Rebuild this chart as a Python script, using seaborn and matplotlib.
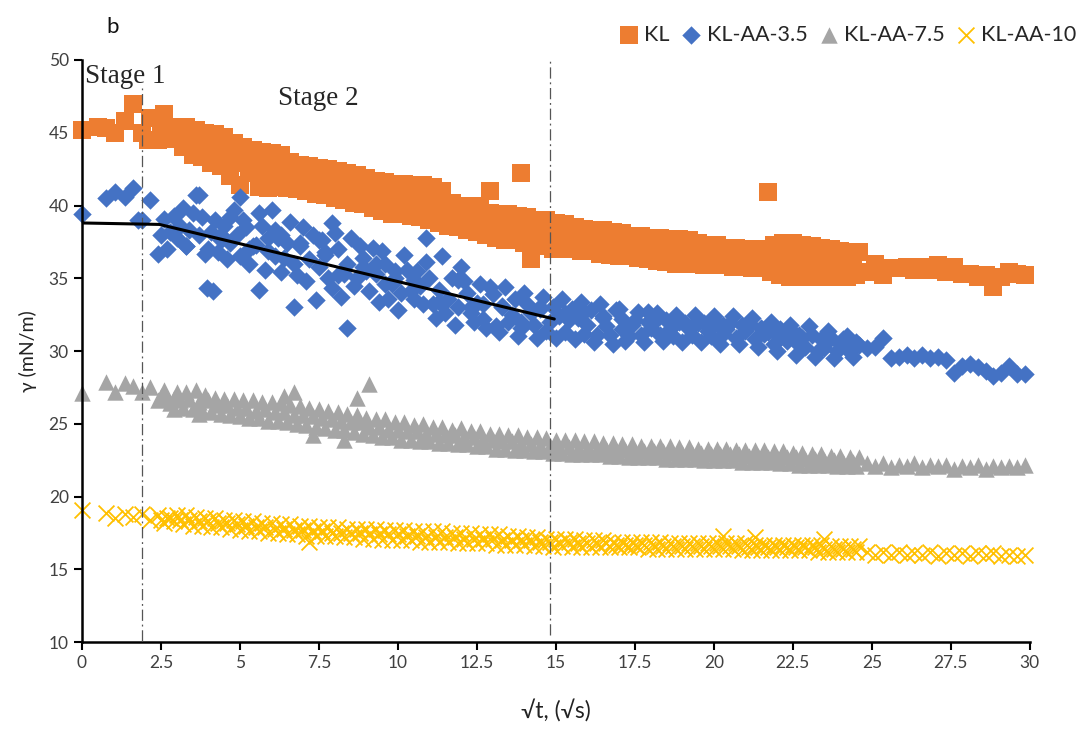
import numpy as np
import pandas as pd
import seaborn as sns
import matplotlib.pyplot as plt

# sqrt(t) positions: main stations, in-between stations, sparse tail
t_dense = [0, 0.75, 1.05, 1.35, 1.6, 1.9, 2.15, 2.4, 2.6, 2.8,
           3.0, 3.2, 3.4, 3.6, 3.8, 4.0, 4.2, 4.4, 4.6, 4.8,
           5.0, 5.2, 5.4, 5.6, 5.8, 6.0, 6.2, 6.4, 6.6, 6.8,
           7.0, 7.2, 7.4, 7.6, 7.8, 8.0, 8.2, 8.4, 8.6, 8.8,
           9.0, 9.2, 9.4, 9.6, 9.8, 10.0, 10.2, 10.4, 10.6, 10.8,
           11.0, 11.2, 11.4, 11.6, 11.8, 12.0, 12.2, 12.4, 12.6, 12.8,
           13.0, 13.2, 13.4, 13.6, 13.8, 14.0, 14.2, 14.4, 14.6, 14.8,
           15.0, 15.2, 15.4, 15.6, 15.8, 16.0, 16.2, 16.4, 16.6, 16.8,
           17.0, 17.2, 17.4, 17.6, 17.8, 18.0, 18.2, 18.4, 18.6, 18.8,
           19.0, 19.2, 19.4, 19.6, 19.8, 20.0, 20.2, 20.4, 20.6, 20.8,
           21.0, 21.2, 21.4, 21.6, 21.8, 22.0, 22.2, 22.4, 22.6, 22.8,
           23.0, 23.2, 23.4, 23.6, 23.8, 24.0, 24.2, 24.4, 24.6]
t_mid = [2.5, 2.7, 2.9, 3.1, 3.3, 3.5, 3.7, 3.9, 4.1, 4.3,
         4.5, 4.7, 4.9, 5.1, 5.3, 5.5, 5.7, 5.9, 6.1, 6.3,
         6.5, 6.7, 6.9, 7.1, 7.3, 7.5, 7.7, 7.9, 8.1, 8.3,
         8.5, 8.7, 8.9, 9.1, 9.3, 9.5, 9.7, 9.9, 10.1, 10.3,
         10.5, 10.7, 10.9, 11.1, 11.3, 11.5, 11.7, 11.9, 12.1, 12.3,
         12.5, 12.7, 12.9, 13.1, 13.3, 13.5, 13.7, 13.9, 14.1, 14.3,
         14.5, 14.7, 14.9, 15.1, 15.3, 15.5, 15.7, 15.9, 16.1, 16.3,
         16.5, 16.7, 16.9, 17.1, 17.3, 17.5, 17.7, 17.9, 18.1, 18.3,
         18.5, 18.7, 18.9, 19.1, 19.3, 19.5, 19.7, 19.9, 20.1, 20.3,
         20.5, 20.7, 20.9, 21.1, 21.3, 21.5, 21.7, 21.9, 22.1, 22.3,
         22.5, 22.7, 22.9, 23.1, 23.3, 23.5, 23.7, 23.9, 24.1, 24.3,
         24.5]
t_late = [24.85, 25.1, 25.35, 25.6, 25.85, 26.1, 26.35, 26.6, 26.85, 27.1, 27.35,
          27.6, 27.85, 28.1, 28.35, 28.6, 28.85, 29.1, 29.35, 29.6, 29.85]

# KL
kl_dense = [45.2, 45.3, 45.0, 45.8, 47.0, 45.0, 46.0, 44.5, 46.3, 44.6,
            45.4, 44.0, 44.7, 45.2, 43.3, 44.1, 44.9, 42.7, 43.6, 44.3,
            41.4, 43.0, 43.8, 41.3, 42.5, 43.6, 41.3, 42.4, 43.0, 41.1,
            41.9, 42.7, 40.8, 41.7, 42.5, 40.5, 41.4, 42.2, 40.2, 41.1,
            41.9, 39.8, 40.7, 41.6, 39.4, 40.4, 41.5, 39.3, 40.3, 41.4,
            39.0, 40.1, 41.0, 38.6, 39.4, 40.0, 38.3, 39.1, 40.0, 38.0,
            38.7, 39.4, 37.6, 38.5, 39.3, 37.4, 38.2, 39.0, 37.2, 38.1,
            38.8, 37.0, 37.8, 38.5, 36.9, 37.6, 38.3, 36.7, 37.5, 38.2,
            36.5, 37.3, 37.9, 36.4, 37.1, 37.8, 36.2, 37.0, 37.7, 36.0,
            36.9, 37.6, 36.0, 36.7, 37.3, 35.9, 36.6, 37.1, 35.8, 36.4,
            37.0, 35.7, 36.4, 37.0, 35.4, 36.3, 37.4, 35.1, 36.2, 37.3,
            35.1, 36.2, 37.1, 35.1, 36.0, 36.9, 35.1, 36.0, 36.8]
kl_mid = [45.3, 45.2, 45.0, 44.7, 45.4, 43.5, 44.3, 45.0, 42.9, 43.8,
          44.7, 42.0, 42.9, 44.0, 42.2, 42.6, 43.7, 41.2, 42.4, 43.5,
          41.2, 42.1, 42.8, 41.0, 41.8, 42.6, 40.7, 41.5, 42.4, 40.4,
          41.2, 42.1, 40.1, 40.9, 41.7, 39.6, 40.5, 41.5, 39.4, 40.4,
          41.4, 39.2, 40.2, 41.3, 38.8, 39.8, 40.2, 38.5, 39.2, 40.0,
          38.2, 39.0, 39.5, 37.8, 38.5, 39.4, 37.6, 38.4, 39.2, 37.3,
          38.1, 39.0, 37.0, 37.9, 38.7, 37.0, 37.7, 38.4, 36.9, 37.6,
          38.3, 36.6, 37.4, 38.1, 36.5, 37.2, 37.9, 36.3, 37.0, 37.8,
          36.1, 36.9, 37.7, 36.0, 36.8, 37.4, 35.9, 36.6, 37.3, 35.9,
          36.5, 37.1, 35.8, 36.4, 37.0, 35.7, 36.3, 37.3, 35.2, 36.2,
          37.4, 35.1, 36.2, 37.2, 35.1, 36.1, 37.0, 35.1, 36.0, 36.8,
          35.2]
kl_late = [35.4, 36.0, 35.2, 35.7, 35.7, 35.8, 35.6, 35.8, 35.6, 35.9, 35.4,
           35.8, 35.3, 35.3, 35.1, 35.2, 34.4, 35.1, 35.4, 35.3, 35.2]
kl_extra_t = [0.5, 2.1, 12.9, 13.9, 14.2, 21.7]
kl_extra = [45.4, 44.5, 41.0, 42.2, 36.3, 40.9]

# KL-AA-3.5
aa35_dense = [39.4, 40.5, 40.9, 40.6, 41.2, 39.0, 40.4, 36.7, 39.1, 38.2,
              37.8, 39.8, 38.3, 40.7, 39.2, 37.0, 39.0, 37.6, 36.3, 39.7,
              36.5, 38.5, 37.2, 39.5, 35.6, 39.7, 37.8, 36.4, 38.9, 35.2,
              38.5, 36.3, 33.5, 37.6, 35.0, 38.1, 33.7, 36.0, 34.5, 37.2,
              35.5, 37.1, 33.4, 36.0, 34.6, 32.8, 36.6, 34.1, 35.5, 33.2,
              35.0, 32.3, 36.5, 33.6, 31.8, 35.8, 34.0, 32.0, 34.6, 31.6,
              33.9, 31.3, 34.4, 32.5, 31.0, 34.0, 32.6, 30.9, 33.7, 32.0,
              30.9, 33.6, 32.1, 30.8, 33.4, 31.8, 30.6, 33.2, 31.7, 30.5,
              32.9, 30.7, 31.8, 32.7, 30.6, 31.6, 32.6, 30.7, 31.5, 32.5,
              30.6, 31.5, 32.5, 30.6, 31.4, 32.4, 30.5, 31.5, 32.4, 30.5,
              31.4, 32.3, 30.3, 31.2, 32.0, 30.0, 31.0, 31.8, 29.7, 30.9,
              31.7, 29.6, 30.8, 31.4, 29.5, 30.5, 31.0, 29.6, 30.4]
aa35_mid = [38.0, 37.0, 39.3, 38.6, 37.2, 39.5, 38.0, 36.7, 38.2, 36.8,
            38.6, 37.4, 38.0, 39.0, 36.0, 37.3, 38.6, 36.9, 38.3, 35.4,
            37.4, 36.0, 37.2, 34.8, 38.0, 35.8, 36.8, 34.3, 37.0, 35.3,
            37.8, 35.0, 36.4, 34.1, 35.3, 36.9, 33.6, 35.0, 34.0, 35.6,
            33.6, 34.5, 36.1, 33.2, 34.2, 32.6, 35.0, 33.0, 34.8, 32.6,
            33.3, 32.2, 34.4, 31.7, 33.1, 32.0, 33.6, 31.6, 33.2, 31.8,
            32.9, 31.4, 33.0, 32.4, 31.3, 32.9, 32.3, 31.2, 32.8, 31.1,
            32.3, 31.1, 32.8, 32.2, 31.0, 32.1, 31.1, 32.7, 32.0, 31.1,
            32.1, 31.0, 32.0, 31.9, 31.1, 32.1, 31.9, 31.0, 31.9, 31.2,
            31.9, 30.9, 31.8, 31.7, 30.8, 31.6, 31.3, 30.5, 31.5, 30.7,
            31.3, 30.4, 30.3, 31.1, 30.0, 30.2, 30.9, 30.0, 30.8, 29.9,
            30.6]
aa35_late = [30.2, 30.3, 30.9, 29.5, 29.6, 29.7, 29.5, 29.7, 29.5, 29.6, 29.4,
             28.5, 29.0, 29.1, 28.9, 28.6, 28.3, 28.5, 29.0, 28.4, 28.4]
aa35_extra_t = [1.77, 3.7, 3.95, 4.15, 5.0, 5.6, 6.7, 7.9, 8.4,
                2.9, 3.3, 4.4, 4.7, 5.3, 5.9, 6.3, 6.1, 6.9, 7.5,
                7.7, 8.1, 8.9, 9.3, 9.6, 9.9, 10.5, 10.9, 11.3, 11.9,
                12.3, 12.7, 13.3, 13.9, 14.5, 15.3, 15.9, 16.5, 17.1, 17.9,
                18.7, 19.5, 20.3, 21.1, 21.9, 22.7, 23.5, 24.3]
aa35_extra = [39.0, 40.7, 34.3, 34.1, 40.6, 34.2, 33.0, 38.8, 31.6,
              39.2, 37.2, 38.0, 39.2, 37.0, 37.8, 38.0, 36.5, 37.4, 37.6,
              36.6, 35.2, 35.8, 36.0, 34.6, 35.5, 34.9, 37.8, 33.4, 34.9,
              33.0, 33.2, 33.0, 32.0, 33.0, 32.6, 32.7, 32.4, 31.5, 32.0,
              32.0, 31.9, 31.8, 31.9, 31.3, 31.1, 30.9, 30.1]

# KL-AA-7.5
aa75_dense = [27.1, 27.9, 27.2, 27.8, 27.6, 27.2, 27.5, 26.6, 27.3, 26.4,
              27.2, 26.1, 26.7, 27.3, 25.9, 26.6, 26.8, 25.7, 26.3, 26.7,
              25.5, 26.1, 26.6, 25.4, 26.0, 26.5, 25.2, 25.8, 26.3, 25.0,
              25.6, 26.1, 24.8, 25.4, 25.9, 24.6, 25.2, 25.7, 24.4, 25.1,
              25.4, 24.2, 24.8, 25.3, 24.1, 24.6, 25.1, 23.9, 24.5, 25.0,
              23.8, 24.3, 24.8, 23.7, 24.2, 24.7, 23.6, 24.1, 24.5, 23.5,
              23.9, 24.3, 23.3, 23.8, 24.2, 23.2, 23.6, 24.1, 23.1, 23.5,
              23.9, 23.0, 23.4, 23.9, 22.9, 23.3, 23.8, 22.9, 23.3, 23.7,
              22.8, 23.2, 23.6, 22.7, 23.1, 23.5, 22.7, 23.1, 23.5, 22.6,
              23.0, 23.4, 22.6, 23.0, 23.3, 22.5, 22.9, 23.3, 22.5, 22.9,
              23.2, 22.4, 22.8, 23.2, 22.4, 22.7, 23.1, 22.3, 22.7, 23.0,
              22.2, 22.6, 22.9, 22.2, 22.5, 22.8, 22.1, 22.4, 22.7]
aa75_mid = [26.9, 26.8, 26.8, 26.6, 27.2, 26.0, 26.5, 27.0, 25.8, 26.3,
            26.7, 25.6, 26.1, 26.6, 25.4, 25.9, 26.5, 25.2, 25.8, 26.4,
            25.1, 25.6, 26.2, 24.9, 25.5, 26.0, 24.7, 25.3, 25.8, 24.6,
            25.1, 25.6, 24.3, 24.8, 25.3, 24.1, 24.6, 25.1, 23.9, 24.5,
            24.9, 23.8, 24.3, 24.8, 23.7, 24.2, 24.6, 23.6, 24.1, 24.5,
            23.5, 23.9, 24.3, 23.3, 23.8, 24.2, 23.2, 23.6, 24.1, 23.1,
            23.5, 24.0, 23.0, 23.4, 23.9, 22.9, 23.3, 23.8, 22.9, 23.3,
            23.7, 22.8, 23.2, 23.6, 22.7, 23.1, 23.5, 22.7, 23.1, 23.5,
            22.6, 23.0, 23.4, 22.6, 23.0, 23.3, 22.5, 22.9, 23.3, 22.5,
            22.9, 23.2, 22.4, 22.8, 23.2, 22.4, 22.7, 23.1, 22.3, 22.7,
            23.0, 22.2, 22.6, 22.9, 22.2, 22.5, 22.8, 22.1, 22.4, 22.7,
            22.1]
aa75_late = [22.3, 22.1, 22.3, 22.0, 22.2, 22.1, 22.3, 22.0, 22.2, 22.1, 22.2,
             21.9, 22.1, 22.0, 22.2, 21.9, 22.1, 22.0, 22.1, 22.0, 22.2]
aa75_extra_t = [6.7, 8.7, 9.1, 7.3, 8.3, 2.9, 3.7, 6.4]
aa75_extra = [27.2, 26.8, 27.7, 24.2, 23.9, 26.0, 25.7, 26.9]

# KL-AA-10
aa10_dense = [19.1, 18.9, 18.5, 18.8, 18.6, 18.8, 18.4, 18.7, 18.2, 18.5,
              18.7, 18.1, 18.4, 18.6, 18.0, 18.3, 18.5, 17.9, 18.2, 18.4,
              17.7, 18.0, 18.3, 17.6, 17.9, 18.2, 17.5, 17.8, 18.1, 17.4,
              17.7, 18.0, 17.3, 17.6, 17.9, 17.3, 17.5, 17.8, 17.2, 17.5,
              17.8, 17.1, 17.4, 17.7, 17.0, 17.4, 17.7, 17.0, 17.3, 17.6,
              16.9, 17.2, 17.6, 16.9, 17.2, 17.5, 16.8, 17.1, 17.4, 16.8,
              17.1, 17.4, 16.7, 17.0, 17.3, 16.7, 17.0, 17.2, 16.6, 16.9,
              17.1, 16.6, 16.9, 17.1, 16.5, 16.8, 17.0, 16.5, 16.8, 16.9,
              16.5, 16.7, 16.9, 16.5, 16.7, 16.9, 16.4, 16.6, 16.8, 16.4,
              16.6, 16.8, 16.4, 16.6, 16.8, 16.4, 16.6, 16.8, 16.4, 16.6,
              16.8, 16.3, 16.5, 16.7, 16.3, 16.5, 16.7, 16.3, 16.5, 16.7,
              16.3, 16.5, 16.7, 16.2, 16.4, 16.6, 16.2, 16.4, 16.6]
aa10_mid = [18.4, 18.5, 18.3, 18.4, 18.7, 18.0, 18.3, 18.5, 17.9, 18.2,
            18.4, 17.8, 18.1, 18.3, 17.6, 17.9, 18.2, 17.5, 17.8, 18.1,
            17.4, 17.7, 18.0, 17.3, 17.6, 17.9, 17.3, 17.5, 17.9, 17.2,
            17.5, 17.8, 17.1, 17.4, 17.8, 17.0, 17.4, 17.7, 17.0, 17.3,
            17.6, 16.9, 17.2, 17.6, 16.9, 17.2, 17.5, 16.8, 17.1, 17.5,
            16.8, 17.1, 17.4, 16.7, 17.0, 17.3, 16.7, 17.0, 17.2, 16.6,
            16.9, 17.1, 16.5, 16.8, 17.1, 16.5, 16.8, 17.0, 16.5, 16.8,
            17.0, 16.5, 16.7, 16.9, 16.5, 16.7, 16.9, 16.4, 16.6, 16.9,
            16.4, 16.6, 16.8, 16.4, 16.6, 16.8, 16.4, 16.6, 16.8, 16.4,
            16.6, 16.8, 16.3, 16.5, 16.7, 16.3, 16.5, 16.7, 16.3, 16.5,
            16.7, 16.3, 16.5, 16.7, 16.2, 16.4, 16.6, 16.2, 16.4, 16.6,
            16.2]
aa10_late = [16.2, 16.0, 16.2, 16.0, 16.2, 16.0, 16.1, 16.0, 16.2, 15.9, 16.1,
             16.0, 16.1, 15.9, 16.1, 16.0, 16.1, 15.9, 16.0, 15.9, 16.0]
aa10_extra_t = [7.2, 20.3, 21.3, 23.5]
aa10_extra = [16.9, 17.3, 17.2, 17.1]

# linear fit drawn over KL-AA-3.5, and the stage boundaries
fit_t = [0, 2.45, 14.95]
fit_g = [38.8, 38.7, 32.2]
stage_t = [1.9, 14.8]
stage_lo = [10.1, 10.5]
stage_hi = [48.1, 49.9]

t_all = t_dense + t_mid + t_late
series = {
    "KL": (t_all + kl_extra_t, kl_dense + kl_mid + kl_late + kl_extra),
    "KL-AA-3.5": (t_all + aa35_extra_t, aa35_dense + aa35_mid + aa35_late + aa35_extra),
    "KL-AA-7.5": (t_all + aa75_extra_t, aa75_dense + aa75_mid + aa75_late + aa75_extra),
    "KL-AA-10": (t_all + aa10_extra_t, aa10_dense + aa10_mid + aa10_late + aa10_extra),
}
colors = {"KL": "#ED7D31", "KL-AA-3.5": "#4472C4", "KL-AA-7.5": "#A5A5A5", "KL-AA-10": "#FFC000"}
markers = {"KL": "s", "KL-AA-3.5": "D", "KL-AA-7.5": "^", "KL-AA-10": "x"}
sizes = {"KL": 150, "KL-AA-3.5": 88, "KL-AA-7.5": 140, "KL-AA-10": 130}

sns.set_style("white")
plt.rcParams['font.family'] = ['Lato', 'DejaVu Sans']

fig, ax = plt.subplots(figsize=(10.84, 7.29), dpi=100)
fig.subplots_adjust(left=0.0756, right=0.950, bottom=0.1193, top=0.9177)

for name, (tt, gg) in series.items():
    df = pd.DataFrame({"t": tt, "gamma": gg})
    if markers[name] == "x":
        sns.scatterplot(data=df, x="t", y="gamma", ax=ax, marker="x", color=colors[name],
                        s=sizes[name], linewidth=1.3, label=name, clip_on=False)
    else:
        sns.scatterplot(data=df, x="t", y="gamma", ax=ax, marker=markers[name], color=colors[name],
                        s=sizes[name], linewidth=0, label=name, clip_on=False)

for x, lo, hi in zip(stage_t, stage_lo, stage_hi):
    ax.plot([x, x], [lo, hi], color="#555555", lw=0.9, ls=(0, (9, 3, 1.5, 3)), zorder=5)

ax.plot(fit_t, fit_g, color="black", lw=2.2, zorder=6)

ax.text(0.1, 48.4, "Stage 1", family="Liberation Serif", fontsize=19.5, va="baseline", zorder=7)
ax.text(6.2, 46.9, "Stage 2", family="Liberation Serif", fontsize=19.5, va="baseline", zorder=7)
fig.text(0.098, 0.955, "b", fontsize=16, color="#111111")

ax.set_xlim(0, 30)
ax.set_ylim(10, 50)
ax.set_xticks(np.arange(0, 30.1, 2.5))
ax.set_xticklabels(["0", "2.5", "5", "7.5", "10", "12.5", "15", "17.5", "20", "22.5", "25", "27.5", "30"])
ax.set_yticks(np.arange(10, 51, 5))
ax.tick_params(axis="both", direction="out", length=6, width=1.5, labelsize=12.5,
               labelcolor="#404040", color="black", bottom=True, left=True)
ax.set_xlabel("√t, (√s)", fontsize=16.5, color="#222222", labelpad=20)
ax.set_ylabel("γ (mN/m)", fontsize=14, color="#222222", labelpad=8)
sns.despine(ax=ax)
for side in ["left", "bottom"]:
    ax.spines[side].set_color("black")
    ax.spines[side].set_linewidth(1.8)

handles, labels = ax.get_legend_handles_labels()
ax.legend_.remove()
fig.legend(handles, labels, loc="center right", bbox_to_anchor=(1.005, 1 - 35 / 729), ncol=4,
           frameon=False, fontsize=15.5, handlelength=0.9, handletextpad=0.25, columnspacing=0.55,
           borderaxespad=0.2)

fig.savefig("out.png", dpi=100)
